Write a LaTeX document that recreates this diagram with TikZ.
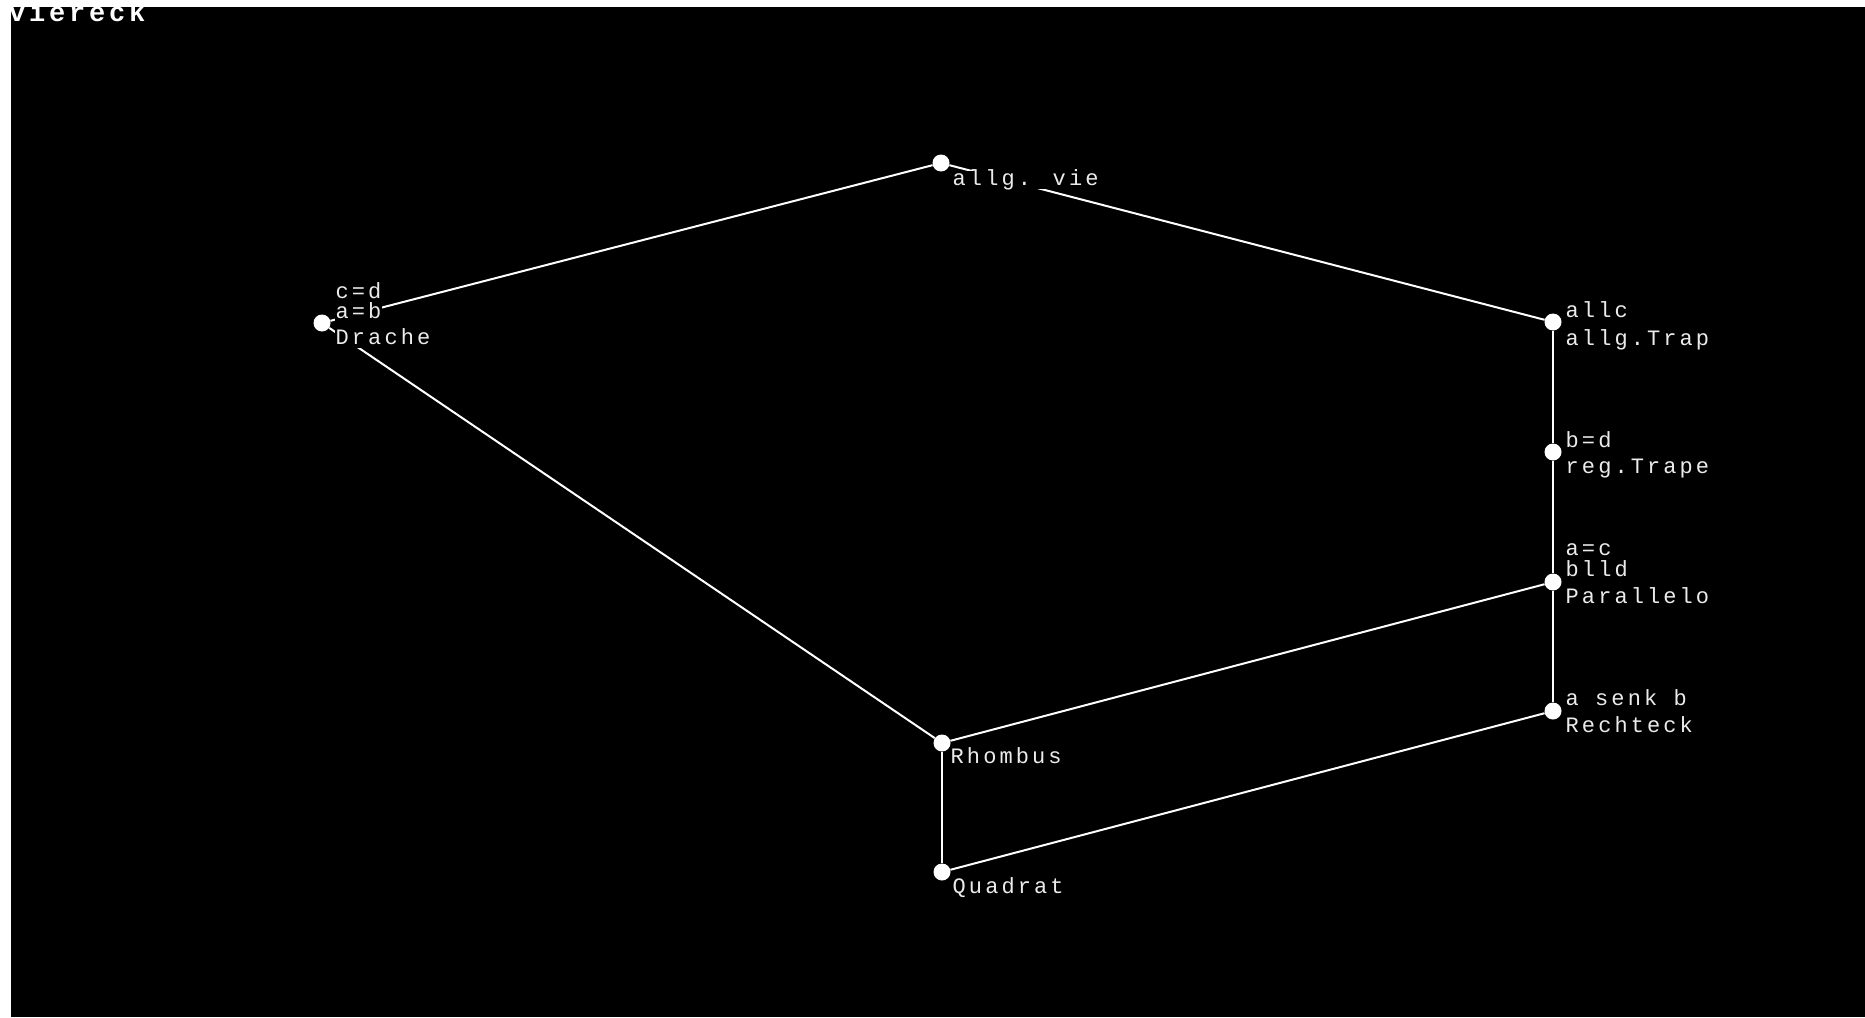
\documentclass[tikz,border=0pt]{standalone}
\usepackage{fontspec}
\newfontfamily\lblfont{Liberation Mono}[LetterSpace=14]
\begin{document}
\begin{tikzpicture}[x=1pt,y=-1pt,
  vtx/.style={circle,fill=white,inner sep=0pt,minimum size=17pt},
  edge/.style={draw=white,line width=2pt},
  lbl/.style={anchor=base west,fill=black,inner sep=0.5pt,text height=13.5pt,text depth=3pt,text=white!92!black,font=\lblfont\fontsize{22}{22}\selectfont},
  ttl/.style={anchor=base west,inner sep=0pt,text=white,font=\lblfont\bfseries\fontsize{27}{27}\selectfont}]
\fill[black] (0,0) rectangle (1865,1017);
\useasboundingbox (0,0) rectangle (1865,1017);
\node[ttl] (title) at (9,21) {viereck};
\fill[white] (0,0) rectangle (1865,7);
\fill[white] (0,0) rectangle (11,1017);
% vertices
\node[vtx] (vie) at (941,163) {};
\node[vtx] (drache) at (322,323) {};
\node[vtx] (trap) at (1553,322) {};
\node[vtx] (regtrap) at (1553,452) {};
\node[vtx] (para) at (1553,582) {};
\node[vtx] (recht) at (1553,711) {};
\node[vtx] (rhomb) at (942,743) {};
\node[vtx] (quad) at (942,872) {};
% edges
\draw[edge] (vie) -- (drache);
\draw[edge] (vie) -- (trap);
\draw[edge] (drache) -- (rhomb);
\draw[edge] (trap) -- (regtrap);
\draw[edge] (regtrap) -- (para);
\draw[edge] (para) -- (recht);
\draw[edge] (para) -- (rhomb);
\draw[edge] (recht) -- (quad);
\draw[edge] (rhomb) -- (quad);
% labels
\node[lbl] (drache1) at (335,298) {c=d};
\node[lbl] (drache2) at (335,318) {a=b};
\node[lbl] (drache3) at (335,344) {Drache};
\node[lbl] (vie1) at (952,185) {allg. vie};
\node[lbl] (trap1) at (1565,317) {allc};
\node[lbl] (trap2) at (1565,345) {allg.Trap};
\node[lbl] (regtrap1) at (1565,447) {b=d};
\node[lbl] (regtrap2) at (1565,473) {reg.Trape};
\node[lbl] (para1) at (1565,555) {a=c};
\node[lbl] (para2) at (1565,576) {blld};
\node[lbl] (para3) at (1565,603) {Parallelo};
\node[lbl] (recht1) at (1565,705) {a senk b};
\node[lbl] (recht2) at (1565,732) {Rechteck};
\node[lbl] (rhomb1) at (950,763) {Rhombus};
\node[lbl] (quad1) at (952,893) {Quadrat};
\end{tikzpicture}
\end{document}
